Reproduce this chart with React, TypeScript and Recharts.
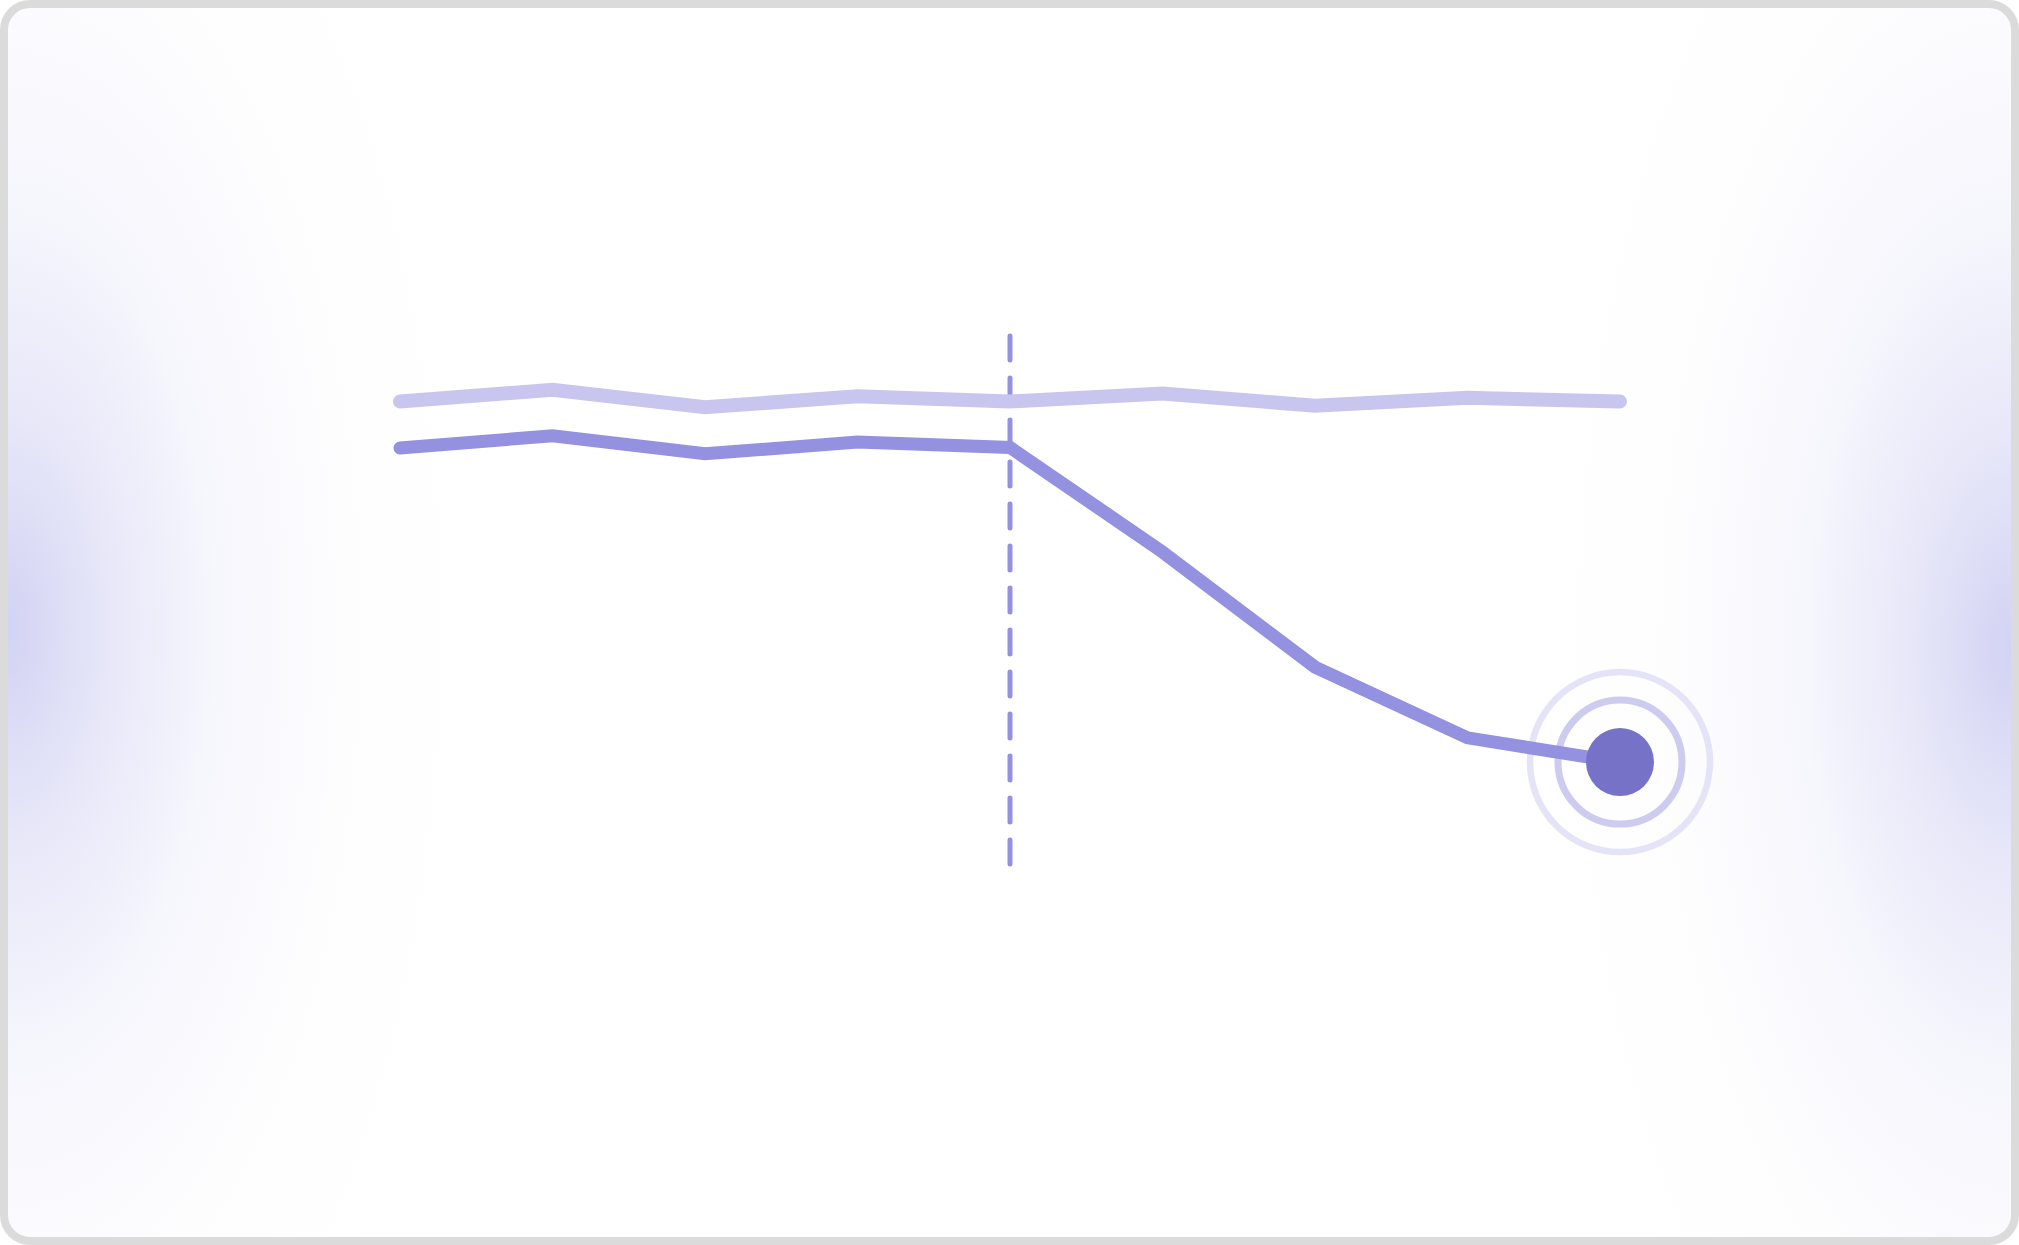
import React from 'react';
import { LineChart, Line, XAxis, YAxis, ReferenceLine, ReferenceDot } from 'recharts';

// nine periods, no labels are shown on the card
const periods = ['P1', 'P2', 'P3', 'P4', 'P5', 'P6', 'P7', 'P8', 'P9'];
const baselineValues = [87.6, 89.8, 86.5, 88.6, 87.6, 89.1, 86.8, 88.3, 87.6];
const actualValues = [78.8, 81.1, 77.7, 79.9, 78.9, 59.1, 37.3, 23.9, 19.3];
const markerPeriod = 'P5';

const data = periods.map((period, i) => ({
  period,
  baseline: baselineValues[i],
  actual: actualValues[i],
}));

const lastIndex = periods.length - 1;

// pulse rings sit under the line, the solid dot on top of it
const Rings = (props: any) => {
  const { cx, cy } = props;
  return (
    <g>
      <circle cx={cx} cy={cy} r={90} fill="none" stroke="#e4e3f7" strokeWidth={6.5} />
      <circle cx={cx} cy={cy} r={62} fill="none" stroke="#cdcbf0" strokeWidth={7} />
    </g>
  );
};

const EndDot = (props: any) => {
  const { cx, cy, index } = props;
  if (index !== lastIndex) return <g key={`dot-${index}`} />;
  return <circle key={`dot-${index}`} cx={cx} cy={cy} r={34} fill="#7572c8" />;
};

const glow = (x: string, y: number) =>
  `radial-gradient(ellipse 460px 950px at ${x} ${y}px, rgba(208,208,243,0.95) 0%, rgba(220,220,246,0.68) 22%, rgba(234,234,250,0.42) 45%, rgba(245,245,252,0.2) 72%, rgba(255,255,255,0) 100%)`;

const App: React.FC = () => {
  return (
    <div style={{ position: 'absolute', left: 0, top: 0, width: 2019, height: 1245 }}>
      <div
        style={{
          position: 'absolute',
          inset: 0,
          boxSizing: 'border-box',
          border: '8px solid #dbdbdb',
          borderRadius: 30,
          background: `${glow('0px', 620)}, ${glow('100%', 640)}, #ffffff`,
        }}
      />
      <div style={{ position: 'absolute', left: 0, top: 0 }}>
        <LineChart
          width={2019}
          height={1245}
          data={data}
          margin={{ top: 336, right: 399, bottom: 381, left: 400 }}
        >
          <XAxis dataKey="period" hide padding={{ left: 0, right: 0 }} />
          <YAxis hide domain={[0, 100]} />
          <ReferenceLine
            x={markerPeriod}
            stroke="#9391e0"
            strokeWidth={5}
            strokeDasharray="24 18"
            strokeLinecap="round"
          />
          <ReferenceDot
            x={periods[lastIndex]}
            y={actualValues[lastIndex]}
            r={90}
            shape={Rings}
            zIndex={100}
          />
          <Line
            dataKey="baseline"
            stroke="#c8c6ef"
            strokeWidth={14}
            strokeLinecap="round"
            dot={false}
            activeDot={false}
            isAnimationActive={false}
          />
          <Line
            dataKey="actual"
            stroke="#9391e0"
            strokeWidth={13}
            strokeLinecap="round"
            dot={EndDot}
            activeDot={false}
            isAnimationActive={false}
          />
        </LineChart>
      </div>
    </div>
  );
};

export default App;
